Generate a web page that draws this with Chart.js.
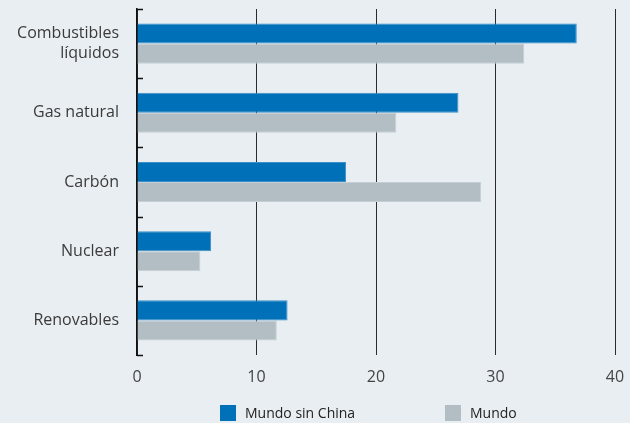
<!DOCTYPE html>
<html>
<head>
<meta charset="utf-8">
<script src="https://cdn.jsdelivr.net/npm/chart.js@4/dist/chart.umd.min.js"></script>
<style>
  html, body { margin: 0; padding: 0; background: #e9eef3; }
  #wrap { position: relative; width: 630px; height: 423px; }
  #legend { position: absolute; top: 405px; left: 0; width: 630px; height: 18px;
            font-family: 'Open Sans', sans-serif; font-size: 14px; color: #222; }
  #legend span.item { position: absolute; top: 0; line-height: 16px; }
  #legend i { display: inline-block; width: 16px; height: 16px; vertical-align: top; margin-right: 9px; }
</style>
</head>
<body>
<div id="wrap">
  <canvas id="chart" width="630" height="423"></canvas>
  <div id="legend"></div>
</div>
<script>
// data
const categories = [["Combustibles", "líquidos"], "Gas natural", "Carbón", "Nuclear", "Renovables"];
const seriesNames = ["Mundo sin China", "Mundo"];
const mundoSinChina = [36.8, 26.9, 17.5, 6.2, 12.6];
const mundo = [32.4, 21.7, 28.8, 5.3, 11.7];
const xTicks = [0, 10, 20, 30, 40];

const colors = { blue: "#0070b8", gray: "#b2bec3", text: "#3a3a3a", grid: "#2b2b2b" };

// small ticks on the inner side of the category axis, at category boundaries
const innerTicks = {
  id: "innerTicks",
  afterDraw(chart) {
    const y = chart.scales.y, x = chart.scales.x, ctx = chart.ctx;
    const x0 = x.getPixelForValue(0);
    ctx.save();
    ctx.strokeStyle = "#111";
    ctx.lineWidth = 1.5;
    for (let i = 0; i <= categories.length; i++) {
      const py = Math.round(y.getPixelForValue(i - 0.5)) + 0.5;
      ctx.beginPath();
      ctx.moveTo(x0, py);
      ctx.lineTo(x0 + 6, py);
      ctx.stroke();
    }
    ctx.restore();
  }
};

new Chart(document.getElementById("chart"), {
  type: "bar",
  data: {
    labels: categories,
    datasets: [
      { label: seriesNames[0], data: mundoSinChina, backgroundColor: colors.blue,
        borderColor: "#3b8ec8", borderWidth: 1, borderSkipped: "start" },
      { label: seriesNames[1], data: mundo, backgroundColor: colors.gray,
        borderColor: "#c6d0d4", borderWidth: 1, borderSkipped: "start" }
    ]
  },
  options: {
    indexAxis: "y",
    responsive: false,
    animation: false,
    categoryPercentage: 0.58,
    barPercentage: 1,
    layout: { padding: { top: 9, right: 15, bottom: 38, left: 0 } },
    plugins: { legend: { display: false }, tooltip: { enabled: false } },
    scales: {
      x: {
        min: 0, max: 40,
        afterBuildTicks: s => { s.ticks = xTicks.map(v => ({ value: v })); },
        afterFit: s => { s.height = 30; s.paddingLeft = 0; s.paddingRight = 0; },
        grid: { color: colors.grid, lineWidth: 1, drawTicks: false },
        border: { display: false },
        ticks: { padding: 13, color: "#444", font: { family: "'Open Sans', sans-serif", size: 16 } }
      },
      y: {
        afterFit: s => { s.width = 137; s.paddingTop = 0; s.paddingBottom = 0; },
        grid: { display: false },
        border: { display: true, color: "#111", width: 1.5 },
        ticks: { padding: 10, color: colors.text,
                 font: { family: "'Open Sans', sans-serif", size: 16, lineHeight: 1.25 } }
      }
    }
  },
  plugins: [innerTicks]
});

// html legend
const legend = document.getElementById("legend");
const legendPos = [220, 445];
[colors.blue, colors.gray].forEach((c, i) => {
  const el = document.createElement("span");
  el.className = "item";
  el.style.left = legendPos[i] + "px";
  el.innerHTML = '<i style="background:' + c + '"></i>' + seriesNames[i];
  legend.appendChild(el);
});
</script>
</body>
</html>
